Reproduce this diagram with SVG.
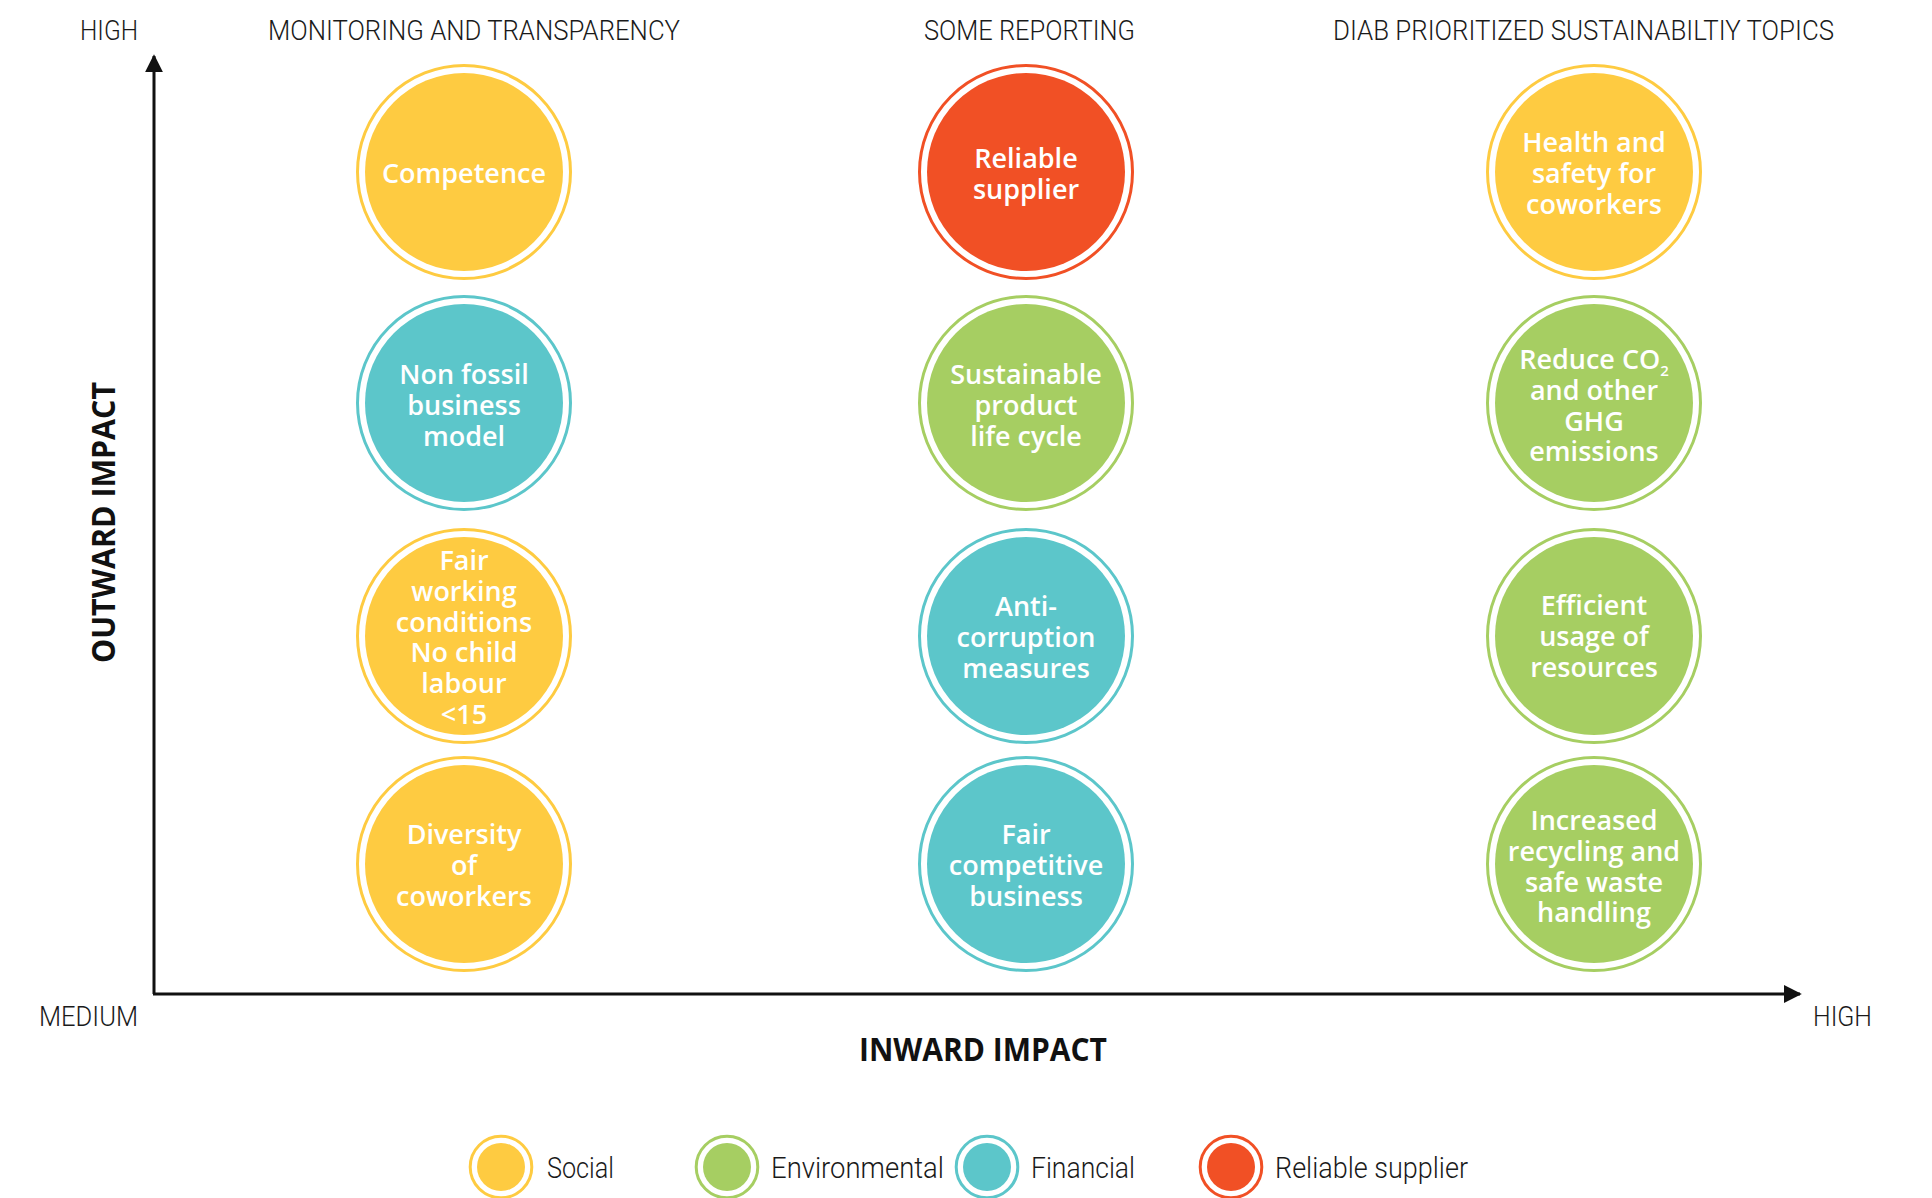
<svg xmlns="http://www.w3.org/2000/svg" width="1932" height="1198" viewBox="0 0 1932 1198">
<style>
.hdr{font-family:Roboto,"Open Sans","Liberation Sans",sans-serif;font-weight:300;font-size:28px;fill:#1a1a1a}
.ax{font-family:"Open Sans","Liberation Sans",sans-serif;font-weight:700;font-size:33px;fill:#111}
.lbl{font-family:"Open Sans","Liberation Sans",sans-serif;font-weight:600;font-size:27px;fill:#fff;text-anchor:middle}
.leg{font-family:Roboto,"Open Sans","Liberation Sans",sans-serif;font-weight:300;font-size:29px;fill:#1a1a1a}
.ring{fill:none;stroke-width:3}
.y .ring{stroke:#FECB41}.y .fill{fill:#FECB41}
.g .ring{stroke:#A6CE62}.g .fill{fill:#A6CE62}
.b .ring{stroke:#5CC6CA}.b .fill{fill:#5CC6CA}
.r .ring{stroke:#F15025}.r .fill{fill:#F15025}
.axis{stroke:#111;stroke-width:3;fill:none}
</style>
<defs>
<marker id="arr" viewBox="0 0 10 10" refX="9" refY="5" markerWidth="6" markerHeight="6" markerUnits="strokeWidth" orient="auto">
<path d="M0,0 L10,5 L0,10 z" fill="#111"/>
</marker>
</defs>
<rect width="1932" height="1198" fill="#fff"/>

<g id="headers">
<text class="hdr" x="80" y="40" textLength="58" lengthAdjust="spacingAndGlyphs">HIGH</text>
<text class="hdr" x="268" y="40" textLength="412" lengthAdjust="spacingAndGlyphs">MONITORING AND TRANSPARENCY</text>
<text class="hdr" x="924" y="40" textLength="211" lengthAdjust="spacingAndGlyphs">SOME REPORTING</text>
<text class="hdr" x="1333" y="40" textLength="501" lengthAdjust="spacingAndGlyphs">DIAB PRIORITIZED SUSTAINABILTIY TOPICS</text>
<text class="hdr" x="39" y="1026" textLength="99" lengthAdjust="spacingAndGlyphs">MEDIUM</text>
<text class="hdr" x="1813" y="1026" textLength="59" lengthAdjust="spacingAndGlyphs">HIGH</text>
<text class="ax" x="859" y="1061" textLength="248" lengthAdjust="spacingAndGlyphs">INWARD IMPACT</text>
<text class="ax" transform="translate(115,663) rotate(-90)" x="0" y="0" textLength="281" lengthAdjust="spacingAndGlyphs">OUTWARD IMPACT</text>
</g>

<g id="connectors">
<path class="axis" d="M154,994 L154,56" marker-end="url(#arr)"/>
<path class="axis" d="M153,994 L1800,994" marker-end="url(#arr)"/>
</g>

<g id="n-competence" class="y"><circle class="ring" cx="464" cy="172" r="106.5"/><circle class="fill" cx="464" cy="172" r="99"/>
<text class="lbl" x="464" y="183">Competence</text></g>
<g id="n-reliable" class="r"><circle class="ring" cx="1026" cy="172" r="106.5"/><circle class="fill" cx="1026" cy="172" r="99"/>
<text class="lbl" x="1026" y="168">Reliable<tspan x="1026" dy="30.8">supplier</tspan></text></g>
<g id="n-health" class="y"><circle class="ring" cx="1594" cy="172" r="106.5"/><circle class="fill" cx="1594" cy="172" r="99"/>
<text class="lbl" x="1594" y="152">Health and<tspan x="1594" dy="30.8">safety for</tspan><tspan x="1594" dy="30.8">coworkers</tspan></text></g>

<g id="n-nonfossil" class="b"><circle class="ring" cx="464" cy="403" r="106.5"/><circle class="fill" cx="464" cy="403" r="99"/>
<text class="lbl" x="464" y="384">Non fossil<tspan x="464" dy="30.8">business</tspan><tspan x="464" dy="30.8">model</tspan></text></g>
<g id="n-sustainable" class="g"><circle class="ring" cx="1026" cy="403" r="106.5"/><circle class="fill" cx="1026" cy="403" r="99"/>
<text class="lbl" x="1026" y="384">Sustainable<tspan x="1026" dy="30.8">product</tspan><tspan x="1026" dy="30.8">life cycle</tspan></text></g>
<g id="n-co2" class="g"><circle class="ring" cx="1594" cy="403" r="106.5"/><circle class="fill" cx="1594" cy="403" r="99"/>
<text class="lbl" x="1594" y="369">Reduce CO<tspan font-size="15" dy="7">2</tspan><tspan x="1594" dy="23.8">and other</tspan><tspan x="1594" dy="30.8">GHG</tspan><tspan x="1594" dy="30.8">emissions</tspan></text></g>

<g id="n-fair" class="y"><circle class="ring" cx="464" cy="636" r="106.5"/><circle class="fill" cx="464" cy="636" r="99"/>
<text class="lbl" x="464" y="570">Fair<tspan x="464" dy="30.8">working</tspan><tspan x="464" dy="30.8">conditions</tspan><tspan x="464" dy="30.8">No child</tspan><tspan x="464" dy="30.8">labour</tspan><tspan x="464" dy="30.8">&lt;15</tspan></text></g>
<g id="n-anti" class="b"><circle class="ring" cx="1026" cy="636" r="106.5"/><circle class="fill" cx="1026" cy="636" r="99"/>
<text class="lbl" x="1026" y="616">Anti-<tspan x="1026" dy="30.8">corruption</tspan><tspan x="1026" dy="30.8">measures</tspan></text></g>
<g id="n-efficient" class="g"><circle class="ring" cx="1594" cy="636" r="106.5"/><circle class="fill" cx="1594" cy="636" r="99"/>
<text class="lbl" x="1594" y="615">Efficient<tspan x="1594" dy="30.8">usage of</tspan><tspan x="1594" dy="30.8">resources</tspan></text></g>

<g id="n-diversity" class="y"><circle class="ring" cx="464" cy="864" r="106.5"/><circle class="fill" cx="464" cy="864" r="99"/>
<text class="lbl" x="464" y="844">Diversity<tspan x="464" dy="31">of</tspan><tspan x="464" dy="31">coworkers</tspan></text></g>
<g id="n-competitive" class="b"><circle class="ring" cx="1026" cy="864" r="106.5"/><circle class="fill" cx="1026" cy="864" r="99"/>
<text class="lbl" x="1026" y="844">Fair<tspan x="1026" dy="31">competitive</tspan><tspan x="1026" dy="31">business</tspan></text></g>
<g id="n-recycling" class="g"><circle class="ring" cx="1594" cy="864" r="106.5"/><circle class="fill" cx="1594" cy="864" r="99"/>
<text class="lbl" x="1594" y="830">Increased<tspan x="1594" dy="30.8">recycling and</tspan><tspan x="1594" dy="30.8">safe waste</tspan><tspan x="1594" dy="30.8">handling</tspan></text></g>

<g id="legend">
<g id="leg-social" class="y"><circle class="ring" cx="501" cy="1167" r="30.8" stroke-width="3.5"/><circle class="fill" cx="501" cy="1167" r="24"/>
<text class="leg" x="547" y="1178" textLength="67" lengthAdjust="spacingAndGlyphs">Social</text></g>
<g id="leg-env" class="g"><circle class="ring" cx="727" cy="1167" r="30.8" stroke-width="3.5"/><circle class="fill" cx="727" cy="1167" r="24"/>
<text class="leg" x="771" y="1178" textLength="173" lengthAdjust="spacingAndGlyphs">Environmental</text></g>
<g id="leg-fin" class="b"><circle class="ring" cx="987" cy="1167" r="30.8" stroke-width="3.5"/><circle class="fill" cx="987" cy="1167" r="24"/>
<text class="leg" x="1031" y="1178" textLength="104" lengthAdjust="spacingAndGlyphs">Financial</text></g>
<g id="leg-rel" class="r"><circle class="ring" cx="1231" cy="1167" r="30.8" stroke-width="3.5"/><circle class="fill" cx="1231" cy="1167" r="24"/>
<text class="leg" x="1275" y="1178" textLength="193" lengthAdjust="spacingAndGlyphs">Reliable supplier</text></g>
</g>
</svg>
